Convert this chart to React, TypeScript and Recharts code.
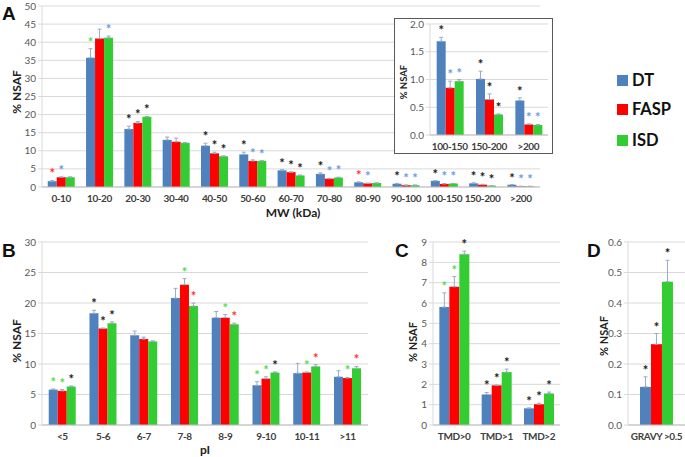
import { BarChart, Bar, XAxis, YAxis, CartesianGrid, ErrorBar, LabelList } from 'recharts';

// ---- panel A: molecular weight ----
const mwCats = ['0-10', '10-20', '20-30', '30-40', '40-50', '50-60', '60-70', '70-80', '80-90', '90-100', '100-150', '150-200', '>200'];
const mwDT = [1.6, 35.7, 16.0, 13.0, 11.4, 9.0, 4.6, 3.6, 1.3, 0.9, 1.69, 1.01, 0.62];
const mwFASP = [2.7, 41.0, 17.7, 12.5, 9.3, 7.2, 4.1, 2.3, 1.0, 0.5, 0.85, 0.64, 0.19];
const mwISD = [2.7, 41.2, 19.4, 12.2, 8.5, 7.2, 3.2, 2.6, 1.1, 0.5, 0.97, 0.37, 0.18];
const mwDTErr = [0.2, 2.5, 0.8, 0.8, 0.7, 0.6, 0.2, 0.3, 0.1, 0.1, 0.07, 0.14, 0.05];
const mwFASPErr = [0.1, 2.6, 0.4, 1.0, 0.3, 0.3, 0.1, 0.1, 0.05, 0.05, 0.12, 0.1, 0.01];
const mwISDErr = [0.1, 0.5, 0.1, 0.1, 0.1, 0.1, 0.1, 0.1, 0.05, 0.05, 0.03, 0.01, 0.01];
const mwDTStar = ['r', 'g', 'k', '', 'k', 'k', 'k', 'k', 'r', 'k', 'k', 'k', 'k'];
const mwFASPStar = ['b', '', 'k', '', 'k', 'b', 'k', 'b', 'b', 'b', 'b', 'k', 'b'];
const mwISDStar = ['', 'b', 'k', '', 'k', 'b', 'k', 'b', '', 'b', 'b', 'k', 'b'];
const mwTicks = [0, 5, 10, 15, 20, 25, 30, 35, 40, 45, 50];
const insetTicks = [0, 0.5, 1, 1.5, 2];

// ---- panel B: pI ----
const piCats = ['<5', '5-6', '6-7', '7-8', '8-9', '9-10', '10-11', '>11'];
const piDT = [5.8, 18.3, 14.7, 20.8, 17.6, 6.5, 8.5, 7.9];
const piFASP = [5.6, 15.8, 14.1, 23.0, 17.6, 7.6, 8.6, 7.7];
const piISD = [6.3, 16.7, 13.7, 19.5, 16.5, 8.6, 9.6, 9.3];
const piDTErr = [0.1, 0.5, 0.7, 1.6, 1.0, 0.6, 1.6, 1.0];
const piFASPErr = [0.2, 0.1, 0.3, 1.0, 0.5, 0.3, 0.1, 0.1];
const piISDErr = [0.1, 0.2, 0.1, 0.5, 0.2, 0.1, 0.3, 0.3];
const piDTStar = ['g', 'k', '', '', '', 'g', '', ''];
const piFASPStar = ['g', 'k', '', 'g', 'g', 'g', 'g', 'g'];
const piISDStar = ['k', 'k', '', 'r', 'r', 'k', 'r', 'r'];
const piTicks = [0, 5, 10, 15, 20, 25, 30];

// ---- panel C: transmembrane domains ----
const tmdCats = ['TMD>0', 'TMD>1', 'TMD>2'];
const tmdDT = [5.8, 1.5, 0.82];
const tmdFASP = [6.8, 1.95, 1.02];
const tmdISD = [8.4, 2.6, 1.55];
const tmdDTErr = [0.7, 0.1, 0.02];
const tmdFASPErr = [0.5, 0.02, 0.05];
const tmdISDErr = [0.15, 0.15, 0.07];
const tmdDTStar = ['g', 'k', 'k'];
const tmdFASPStar = ['g', 'k', 'k'];
const tmdISDStar = ['k', 'k', 'k'];
const tmdTicks = [0, 1, 2, 3, 4, 5, 6, 7, 8, 9];

// ---- panel D: GRAVY ----
const gravyCats = ['GRAVY >0.5'];
const gravyDT = [0.125];
const gravyFASP = [0.265];
const gravyISD = [0.47];
const gravyDTErr = [0.033];
const gravyFASPErr = [0.035];
const gravyISDErr = [0.07];
const gravyDTStar = ['k'];
const gravyFASPStar = ['k'];
const gravyISDStar = ['k'];
const gravyTicks = [0, 0.1, 0.2, 0.3, 0.4, 0.5, 0.6];

const FONT = 'Lato, "Open Sans", sans-serif';
const BLUE = '#4f81bd';
const RED = '#ff0000';
const GREEN = '#33cc33';
const STAR: Record<string, string> = { k: '#1a1a1a', g: '#4fdc4f', b: '#6a9be0', r: '#ff3030' };
const ERR = '#9aabc6';

type Series = { vals: number[]; errs: number[]; stars: string[] };

function starContent(s: Series) {
  return (p: any) => {
    const i = p.index;
    const m = s.stars[i];
    if (!m) return null;
    const vb = p.viewBox || p;
    const h = Math.abs(Number(vb.height));
    const v = s.vals[i];
    const ppu = v ? h / v : 0;
    const top = Math.min(vb.y, vb.y + vb.height) - s.errs[i] * ppu;
    return (
      <text x={vb.x + vb.width / 2} y={top - 2} textAnchor="middle" fontSize={13} fontWeight={700} fill={STAR[m]} fontFamily={FONT}>
        *
      </text>
    );
  };
}

// plain category tick, no wrapping
const CatTick = (p: any) => (
  <text x={p.x} y={p.y} dy="0.71em" textAnchor="middle" fontSize={10} fontWeight={700} fill="#404040" fontFamily={FONT} letterSpacing={-0.4}>
    {p.payload.value}
  </text>
);

interface PanelProps {
  cats: string[];
  dt: Series;
  fasp: Series;
  isd: Series;
  ticks: number[];
  width: number;
  height: number;
  top: number;
  right: number;
  yWidth: number;
  xHeight: number;
  gap: string;
  fmt?: (v: number) => string;
}

function Panel({ cats, dt, fasp, isd, ticks, width, height, top, right, yWidth, xHeight, gap, fmt }: PanelProps) {
  const rows = cats.map((c, i) => ({
    cat: c,
    dt: dt.vals[i],
    fasp: fasp.vals[i],
    isd: isd.vals[i],
    dtE: [0, dt.errs[i]],
    faspE: [0, fasp.errs[i]],
    isdE: [0, isd.errs[i]],
  }));
  const series: [string, string, Series][] = [
    ['dt', BLUE, dt],
    ['fasp', RED, fasp],
    ['isd', GREEN, isd],
  ];
  return (
    <BarChart width={width} height={height} data={rows} margin={{ top, right, left: 0, bottom: 0 }} barCategoryGap={gap} barGap={0}>
      <CartesianGrid vertical={false} stroke="#d9d9d9" />
      <XAxis dataKey="cat" interval={0} height={xHeight} tickLine={false} axisLine={{ stroke: '#bfbfbf' }} tick={CatTick} />
      <YAxis
        width={yWidth}
        domain={[ticks[0], ticks[ticks.length - 1]]}
        ticks={ticks}
        interval={0}
        tickSize={4}
        tickFormatter={fmt}
        axisLine={{ stroke: '#d9d9d9' }}
        tickLine={{ stroke: '#d9d9d9' }}
        tick={{ fontSize: 10, fill: '#595959', fontFamily: FONT }}
      />
      {series.map(([key, color, s]) => (
        <Bar key={key} dataKey={key} fill={color} isAnimationActive={false}>
          <ErrorBar dataKey={key + 'E'} direction="y" width={2} stroke={ERR} strokeWidth={1} isAnimationActive={false} />
          <LabelList dataKey={key} content={starContent(s)} />
        </Bar>
      ))}
    </BarChart>
  );
}

const abs = (left: number, top: number): React.CSSProperties => ({ position: 'absolute', left, top });

export default function App() {
  const n = mwCats.length;
  const tail = (a: any[]) => a.slice(n - 3);
  const fmt1 = (v: number) => v.toFixed(1);
  return (
    <div style={{ position: 'absolute', left: 0, top: 0, width: 685, height: 457, overflow: 'hidden', background: '#fff', fontFamily: FONT }}>
      <div style={abs(0, 0)}>
        <Panel
          cats={mwCats}
          dt={{ vals: mwDT, errs: mwDTErr, stars: mwDTStar }}
          fasp={{ vals: mwFASP, errs: mwFASPErr, stars: mwFASPStar }}
          isd={{ vals: mwISD, errs: mwISDErr, stars: mwISDStar }}
          ticks={mwTicks}
          width={550}
          height={225}
          top={6}
          right={10}
          yWidth={42}
          xHeight={38}
          gap="15%"
        />
      </div>
      <div style={{ ...abs(394, 18), width: 159, height: 136, border: '1px solid #595959', boxSizing: 'border-box', background: '#fff' }} />
      <div style={abs(394, 18)}>
        <Panel
          cats={tail(mwCats)}
          dt={{ vals: tail(mwDT), errs: tail(mwDTErr), stars: tail(mwDTStar) }}
          fasp={{ vals: tail(mwFASP), errs: tail(mwFASPErr), stars: tail(mwFASPStar) }}
          isd={{ vals: tail(mwISD), errs: tail(mwISDErr), stars: tail(mwISDStar) }}
          ticks={insetTicks}
          width={159}
          height={136}
          top={6}
          right={5}
          yWidth={36}
          xHeight={19}
          gap="17%"
          fmt={fmt1}
        />
      </div>
      <div style={abs(0, 236)}>
        <Panel
          cats={piCats}
          dt={{ vals: piDT, errs: piDTErr, stars: piDTStar }}
          fasp={{ vals: piFASP, errs: piFASPErr, stars: piFASPStar }}
          isd={{ vals: piISD, errs: piISDErr, stars: piISDStar }}
          ticks={piTicks}
          width={378}
          height={221}
          top={6}
          right={10}
          yWidth={42}
          xHeight={32}
          gap="16.5%"
        />
      </div>
      <div style={abs(395, 236)}>
        <Panel
          cats={tmdCats}
          dt={{ vals: tmdDT, errs: tmdDTErr, stars: tmdDTStar }}
          fasp={{ vals: tmdFASP, errs: tmdFASPErr, stars: tmdFASPStar }}
          isd={{ vals: tmdISD, errs: tmdISDErr, stars: tmdISDStar }}
          ticks={tmdTicks}
          width={175}
          height={221}
          top={6}
          right={10}
          yWidth={38}
          xHeight={32}
          gap="15%"
        />
      </div>
      <div style={abs(590, 236)}>
        <Panel
          cats={gravyCats}
          dt={{ vals: gravyDT, errs: gravyDTErr, stars: gravyDTStar }}
          fasp={{ vals: gravyFASP, errs: gravyFASPErr, stars: gravyFASPStar }}
          isd={{ vals: gravyISD, errs: gravyISDErr, stars: gravyISDStar }}
          ticks={gravyTicks}
          width={95}
          height={221}
          top={6}
          right={0}
          yWidth={38}
          xHeight={32}
          gap="21%"
          fmt={fmt1}
        />
      </div>
      <svg width={685} height={457} style={{ ...abs(0, 0), pointerEvents: 'none' }}>
        <g fontFamily='"Liberation Sans", Arial, sans-serif' fontWeight={700} fontSize={19} fill="#111">
          <text x={2} y={20}>A</text>
          <text x={2} y={257}>B</text>
          <text x={395} y={257}>C</text>
          <text x={587} y={257}>D</text>
        </g>
        <g fontFamily={FONT} fontWeight={700} fill="#222" textAnchor="middle">
          <text fontSize={12} transform="translate(21,92) rotate(-90)">% NSAF</text>
          <text fontSize={9.5} transform="translate(407,82) rotate(-90)">% NSAF</text>
          <text fontSize={12} transform="translate(21,341) rotate(-90)">% NSAF</text>
          <text fontSize={11} transform="translate(417,342) rotate(-90)">% NSAF</text>
          <text fontSize={11} transform="translate(608,336) rotate(-90)">% NSAF</text>
          <text fontSize={12} x={293} y={217}>MW (kDa)</text>
          <text fontSize={12} x={205} y={454}>pI</text>
        </g>
        <g fontFamily={FONT} fontWeight={700} fontSize={16.5} fill="#111">
          <rect x={617} y={75} width={11} height={11} fill={BLUE} />
          <text x={632} y={86}>DT</text>
          <rect x={617} y={104} width={11} height={11} fill={RED} />
          <text x={632} y={115}>FASP</text>
          <rect x={617} y={135} width={11} height={11} fill={GREEN} />
          <text x={632} y={146}>ISD</text>
        </g>
      </svg>
    </div>
  );
}
